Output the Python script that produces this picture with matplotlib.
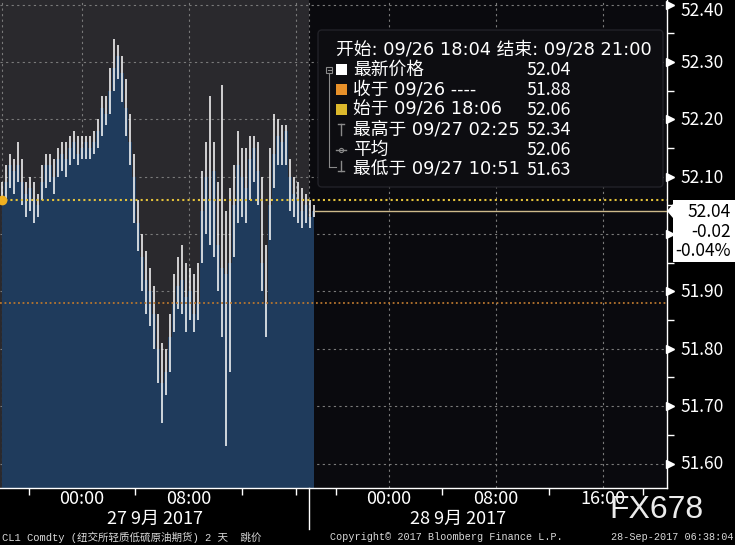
"""Bloomberg style 2-day tick chart of CL1 crude oil futures."""
import matplotlib
matplotlib.use('Agg')
import matplotlib.pyplot as plt
import matplotlib.transforms as mtransforms
from matplotlib.patches import FancyBboxPatch, Polygon, Rectangle
import numpy as np

W, H, DPI = 735, 545, 100

CJK = ['Noto Sans CJK SC', 'DejaVu Sans']
WIDE = ['DejaVu Sans', 'Noto Sans CJK SC']
MONO = ['Liberation Mono', 'Noto Sans CJK SC']

# Palette
LEFT_BG = '#2a292d'
RIGHT_BG = '#0a0a0e'
BLUE = '#1f3b5c'
GRID = '#7a7a7a'
YELLOW = '#e4c23a'
ORANGE = '#b8762e'
TAN = '#cdb98a'

# ---- data: bars every 18 trading minutes from 09/26 18:00 (session hours) ----
bar_step_h = 0.3
close = [52.06, 52.09, 52.12, 52.11, 52.12, 52.09, 52.07, 52.08, 52.06, 52.05,
         52.09, 52.12, 52.12, 52.10, 52.13, 52.14, 52.13, 52.15, 52.16, 52.14,
         52.15, 52.16, 52.15, 52.16, 52.18, 52.22, 52.21, 52.25, 52.29, 52.31,
         52.28, 52.22, 52.16, 52.10, 52.02, 51.96, 51.92, 51.90, 51.86, 51.80,
         51.74, 51.76, 51.82, 51.88, 51.91, 51.92, 51.89, 51.90, 51.86, 51.88,
         52.04, 52.10, 52.06, 52.11, 51.98, 51.94, 51.93, 51.95, 52.05, 52.12,
         52.10, 52.08, 52.13, 52.15, 52.11, 51.95, 51.88, 52.05, 52.14, 52.17,
         52.16, 52.18, 52.10, 52.07, 52.06, 52.04, 52.05, 52.03, 52.04]
high = [52.09, 52.12, 52.14, 52.13, 52.16, 52.13, 52.09, 52.10, 52.09, 52.07,
        52.12, 52.14, 52.14, 52.13, 52.15, 52.16, 52.16, 52.17, 52.18, 52.17,
        52.17, 52.17, 52.17, 52.18, 52.20, 52.24, 52.24, 52.29, 52.34, 52.33,
        52.31, 52.27, 52.21, 52.14, 52.06, 52.00, 51.97, 51.94, 51.91, 51.86,
        51.81, 51.80, 51.86, 51.93, 51.96, 51.98, 51.95, 51.94, 51.93, 51.95,
        52.11, 52.16, 52.24, 52.16, 52.09, 52.26, 52.04, 52.08, 52.12, 52.18,
        52.15, 52.15, 52.17, 52.17, 52.16, 52.10, 51.98, 52.15, 52.21, 52.20,
        52.19, 52.19, 52.13, 52.10, 52.09, 52.08, 52.07, 52.06, 52.05]
low = [52.05, 52.06, 52.08, 52.07, 52.09, 52.05, 52.03, 52.04, 52.02, 52.03,
       52.06, 52.08, 52.09, 52.07, 52.10, 52.11, 52.10, 52.12, 52.13, 52.12,
       52.13, 52.13, 52.13, 52.14, 52.15, 52.17, 52.19, 52.21, 52.25, 52.27,
       52.23, 52.17, 52.12, 52.02, 51.97, 51.90, 51.86, 51.84, 51.80, 51.74,
       51.67, 51.72, 51.76, 51.83, 51.87, 51.86, 51.83, 51.85, 51.83, 51.85,
       51.95, 52.00, 51.98, 51.96, 51.90, 51.82, 51.63, 51.76, 51.96, 52.02,
       52.03, 52.02, 52.06, 52.09, 52.05, 51.90, 51.82, 51.99, 52.08, 52.12,
       52.12, 52.12, 52.04, 52.03, 52.02, 52.01, 52.02, 52.01, 52.03]
t = np.arange(len(close)) * bar_step_h

open_px = 52.06
prev_close = 51.88
last_px = close[-1]
change = -0.02
change_pct = -0.04

price_ticks = [51.6, 51.7, 51.8, 51.9, 52.0, 52.1, 52.2, 52.3, 52.4]
price_minor = [51.65, 51.75, 51.85, 51.95, 52.05, 52.15, 52.25, 52.35]
tick_hours = [6, 14, 29, 37, 45]
tick_labels = ['00:00', '08:00', '00:00', '08:00', '16:00']
minor_hours = [2, 10, 18, 22, 25, 33, 41, 48]
grid_hours = [0, 6, 14, 22, 23, 29, 37, 45]
day_break = 23
day_labels = ['27 9月 2017', '28 9月 2017']
day_centers = [11.5, 34.2]

legend_header = '开始: 09/26 18:04 结束: 09/28 21:00'
legend_rows = ['最新价格', '收于 09/26 ----', '始于 09/26 18:06',
               '最高于 09/27 02:25', '平均', '最低于 09/27 10:51']
legend_vals = [52.04, 51.88, 52.06, 52.34, 52.06, 51.63]

# ---- figure / axes geometry ----
fig = plt.figure(figsize=(W / DPI, H / DPI), dpi=DPI)
fig.patch.set_facecolor('black')
AX_W, AX_H = 667, 487.5
ax = fig.add_axes([0, (H - AX_H) / H, AX_W / W, AX_H / H])
ax.set_facecolor(RIGHT_BG)

PX_PER_H = 13.35
PX_PER_USD = 573.75
x0 = -1.9 / PX_PER_H
x1 = x0 + AX_W / PX_PER_H
ytop = 52.40 + 4.5 / PX_PER_USD
ybot = ytop - AX_H / PX_PER_USD
ax.set_xlim(x0, x1)
ax.set_ylim(ybot, ytop)

ax.axvspan(x0, day_break, color=LEFT_BG, lw=0, zorder=0)

for p in price_ticks:
    ax.axhline(p, color=GRID, lw=0.8, ls=(0, (2, 3)), zorder=1)
for h in grid_hours:
    ax.axvline(h, color=GRID, lw=0.8, ls=(0, (2, 3)), zorder=1)

ax.fill_between(t, close, ybot, step='mid', color=BLUE, lw=0, zorder=2)
ax.vlines(t, low, high, colors='white', lw=1.1, zorder=3)

ax.axhline(open_px, color=YELLOW, lw=1.5, ls=(0, (1, 1.5)), zorder=4)
ax.axhline(prev_close, color=ORANGE, lw=1.3, ls=(0, (1, 1.5)), zorder=4)
ax.hlines(last_px, t[-1], x1, color=TAN, lw=1.0, zorder=4)
ax.plot([0], [open_px], 'o', color='#f0b020', ms=6, zorder=5)

for s in ['left', 'top']:
    ax.spines[s].set_visible(False)
for s in ['right', 'bottom']:
    ax.spines[s].set_color('white')
    ax.spines[s].set_linewidth(1.0)

# y axis: triangles at majors, small ticks at minors, manual labels
ax.set_yticks([])
ax.set_yticks(price_minor, minor=True)
ax.yaxis.set_ticks_position('right')
ax.tick_params(axis='y', which='minor', length=5, width=1, color='white',
               direction='out', labelright=False)
ytrans = mtransforms.blended_transform_factory(ax.transAxes, ax.transData)
ax.plot([1 + 3 / AX_W] * len(price_ticks), price_ticks, ls='none', marker='>',
        ms=6, color='white', transform=ytrans, clip_on=False, zorder=6)
for p in price_ticks:
    if abs(p - last_px) < 0.05:
        continue  # hidden under the last-price box
    yy = p - 1 / PX_PER_USD
    if p >= 52.4:
        yy = p - 7 / PX_PER_USD
    ax.text(1 + 13 / AX_W, yy, f'{p:.2f}', transform=ytrans, ha='left',
            va='center', color='white', fontsize=12.5, family=CJK)

# x axis
ax.set_xticks(tick_hours)
ax.set_xticklabels(tick_labels)
ax.set_xticks(minor_hours, minor=True)
ax.tick_params(axis='x', which='major', length=0, pad=2, labelcolor='white',
               labelsize=13)
ax.tick_params(axis='x', which='minor', length=5, width=1, color='white',
               direction='out')
for lab in ax.get_xticklabels():
    lab.set_family(CJK)
xtrans = mtransforms.blended_transform_factory(ax.transData, ax.transAxes)
for c, lab in zip(day_centers, day_labels):
    ax.text(c, -31 / AX_H, lab, transform=xtrans, ha='center', va='center',
            color='white', fontsize=13, family=CJK)
ax.plot([day_break, day_break], [0, -41 / AX_H], color='white', lw=1.0,
        transform=xtrans, clip_on=False, zorder=6)

# ---- overlay in pixel coordinates for legend, price box, footer ----
ov = fig.add_axes([0, 0, 1, 1])
ov.set_xlim(0, W)
ov.set_ylim(H, 0)
ov.axis('off')
ov.patch.set_visible(False)

ov.add_patch(FancyBboxPatch((318, 30), 345, 157, boxstyle='round,pad=0,rounding_size=4',
                            fc='#0d0d11', ec='#222228', lw=1))
ov.text(336, 49, legend_header, ha='left', va='center', color='white',
        fontsize=12.8, family=WIDE)
row_y = [70, 90, 110, 130, 150, 170]
swatch = ['white', '#e8912a', '#dcb82c']
for i, (lab, val) in enumerate(zip(legend_rows, legend_vals)):
    y = row_y[i]
    if i < 3:
        ov.add_patch(Rectangle((336, y - 6), 11, 11, fc=swatch[i], ec='none'))
    ov.text(353, y, lab, ha='left', va='center', color='white', fontsize=12.8,
            family=WIDE)
    ov.text(527, y, f'{val:.2f}', ha='left', va='center', color='white',
            fontsize=12.8, family=CJK)

TREE = '#8a8a8a'
ov.add_patch(Rectangle((326.5, 66.5), 6, 6, fc='none', ec=TREE, lw=0.8))
ov.plot([328, 331], [69.5, 69.5], color=TREE, lw=0.8)
ov.plot([329.5, 329.5], [73, 167], color=TREE, lw=0.8)
ov.plot([329.5, 336], [167, 167], color=TREE, lw=0.8)
ov.plot([338, 344], [124, 124], color=TREE, lw=1)
ov.plot([341, 341], [124, 135], color=TREE, lw=1)
ov.plot([336, 346], [150, 150], color=TREE, lw=1)
ov.plot([341], [150], 'o', ms=3, mfc='none', mec=TREE, mew=0.8)
ov.plot([341, 341], [161, 171], color=TREE, lw=1)
ov.plot([338, 344], [171, 171], color=TREE, lw=1)

# price box at the right axis
ov.add_patch(Polygon([(673, 200), (735, 200), (735, 262), (673, 262), (673, 218),
                      (667, 211), (673, 204)], closed=True, fc='white', ec='none'))
ov.text(731, 212, f'{last_px:.2f}', ha='right', va='center', color='black',
        fontsize=12.5, family=CJK)
ov.text(731, 232, f'{change:.2f}', ha='right', va='center', color='black',
        fontsize=12.5, family=CJK)
ov.text(731, 251, f'{change_pct:.2f}%', ha='right', va='center', color='black',
        fontsize=12.5, family=CJK)

# footer and watermark
ov.text(656, 510, 'FX678', ha='center', va='center', color='#ececec',
        fontsize=23, family=['Liberation Sans'])
FOOT = '#d8d8d8'
ov.text(2, 537, 'CL1 Comdty (纽交所轻质低硫原油期货) 2 天  跳价', ha='left',
        va='center', color=FOOT, fontsize=7.6, family=MONO)
ov.text(330, 537, 'Copyright© 2017 Bloomberg Finance L.P.', ha='left',
        va='center', color=FOOT, fontsize=7.3, family=MONO)
ov.text(734, 537, '28-Sep-2017 06:38:04', ha='right', va='center', color=FOOT,
        fontsize=7.3, family=MONO)

fig.savefig('out.png', dpi=DPI, facecolor=fig.get_facecolor())
